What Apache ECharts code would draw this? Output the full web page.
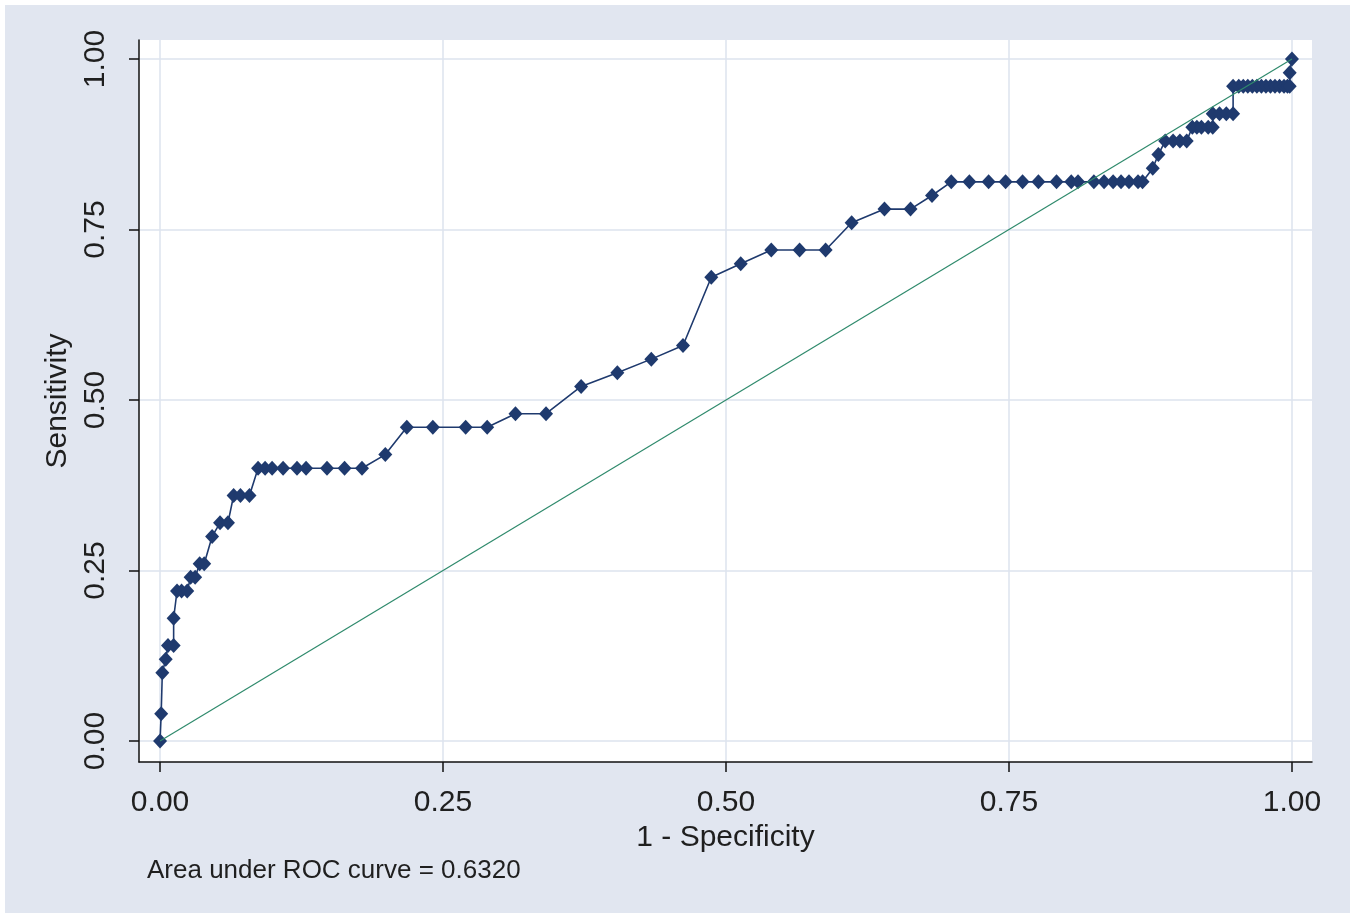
<!DOCTYPE html>
<html>
<head>
<meta charset="utf-8">
<script src="https://cdn.jsdelivr.net/npm/echarts@6/dist/echarts.min.js"></script>
<style>
  html, body { margin: 0; padding: 0; background: #ffffff; }
  #chart { position: absolute; left: 5px; top: 5px; width: 1345px; height: 908px; }
</style>
</head>
<body>
<div id="chart"></div>
<script>
// ROC curve: false positive rate (1 - specificity) vs. true positive rate (sensitivity)
const fpr = [
  0, 0.001, 0.002, 0.005, 0.007, 0.012, 0.012, 0.015, 0.019, 0.024,
  0.027, 0.031, 0.035, 0.039, 0.046, 0.053, 0.060, 0.065, 0.071, 0.079,
  0.0866, 0.0928, 0.099, 0.1087, 0.121, 0.129, 0.1475, 0.163, 0.1784,
  0.199, 0.218, 0.241, 0.270, 0.289, 0.314, 0.341,
  0.372, 0.404, 0.434, 0.462, 0.487, 0.513,
  0.540, 0.565, 0.588, 0.611, 0.640, 0.663, 0.682,
  0.699, 0.715, 0.732, 0.747, 0.762, 0.776, 0.792, 0.805, 0.811, 0.825,
  0.834, 0.842, 0.849, 0.856, 0.864, 0.868,
  0.877, 0.882, 0.888, 0.895, 0.901, 0.907,
  0.912, 0.916, 0.920, 0.926, 0.930,
  0.930, 0.936, 0.942, 0.948,
  0.948, 0.953, 0.957, 0.961, 0.965, 0.969, 0.973, 0.977, 0.981, 0.985, 0.989, 0.993, 0.996, 0.998,
  0.998, 1.000
];
const tpr = [
  0, 0.04, 0.10, 0.12, 0.14, 0.14, 0.18, 0.22, 0.22, 0.22,
  0.24, 0.24, 0.26, 0.26, 0.30, 0.32, 0.32, 0.36, 0.36, 0.36,
  0.40, 0.40, 0.40, 0.40, 0.40, 0.40, 0.40, 0.40, 0.40,
  0.42, 0.46, 0.46, 0.46, 0.46, 0.48, 0.48,
  0.52, 0.54, 0.56, 0.58, 0.68, 0.70,
  0.72, 0.72, 0.72, 0.76, 0.78, 0.78, 0.80,
  0.82, 0.82, 0.82, 0.82, 0.82, 0.82, 0.82, 0.82, 0.82, 0.82,
  0.82, 0.82, 0.82, 0.82, 0.82, 0.82,
  0.84, 0.86, 0.88, 0.88, 0.88, 0.88,
  0.90, 0.90, 0.90, 0.90, 0.90,
  0.92, 0.92, 0.92, 0.92,
  0.96, 0.96, 0.96, 0.96, 0.96, 0.96, 0.96, 0.96, 0.96, 0.96, 0.96, 0.96, 0.96, 0.96,
  0.98, 1.00
];
const refX = [0, 1];
const refY = [0, 1];
const tickValues = [0, 0.25, 0.5, 0.75, 1];
const tickLabels = ['0.00', '0.25', '0.50', '0.75', '1.00'];
const xTitle = '1 - Specificity';
const yTitle = 'Sensitivity';
const aucNote = 'Area under ROC curve = 0.6320';

const rocPoints = fpr.map((x, i) => [x, tpr[i]]);
const refPoints = refX.map((x, i) => [x, refY[i]]);
const fmt = v => tickLabels[tickValues.indexOf(+v.toFixed(2))] ?? '';

const fontFamily = '"Liberation Sans", Arial, sans-serif';
const textColor = '#1f1f1f';
const gridColor = '#dde3ee';

const chart = echarts.init(document.getElementById('chart'));
chart.setOption({
  backgroundColor: '#e1e6f0',
  animation: false,
  title: {
    text: aucNote,
    left: 137,
    top: 848,
    textStyle: { fontFamily, fontSize: 26, fontWeight: 'normal', color: textColor }
  },
  grid: {
    left: 134, top: 35, right: 38, bottom: 151,
    show: true, backgroundColor: '#ffffff', borderWidth: 0
  },
  xAxis: {
    type: 'value',
    min: -0.0186, max: 1.0177,
    name: xTitle,
    nameLocation: 'middle',
    nameGap: 50,
    nameTextStyle: { fontFamily, fontSize: 30, color: textColor },
    axisLine: { show: true, onZero: false, lineStyle: { color: '#111', width: 1.5 } },
    axisTick: { show: true, length: 10, customValues: tickValues, lineStyle: { color: '#111', width: 1.5 } },
    axisLabel: { customValues: tickValues, formatter: fmt, margin: 26, fontFamily, fontSize: 30, color: textColor },
    splitLine: { show: true, lineStyle: { color: gridColor, width: 1.5 } }
  },
  yAxis: {
    type: 'value',
    min: -0.0308, max: 1.028,
    name: yTitle,
    nameLocation: 'middle',
    nameGap: 62,
    nameRotate: 90,
    nameTextStyle: { fontFamily, fontSize: 30, color: textColor },
    axisLine: { show: true, onZero: false, lineStyle: { color: '#111', width: 1.5 } },
    axisTick: { show: true, length: 10, customValues: tickValues, lineStyle: { color: '#111', width: 1.5 } },
    axisLabel: { customValues: tickValues, formatter: fmt, rotate: 90, margin: 28, fontFamily, fontSize: 30, color: textColor },
    splitLine: { show: true, lineStyle: { color: gridColor, width: 1.5 } }
  },
  series: [
    {
      name: 'ROC',
      type: 'line',
      data: rocPoints,
      symbol: 'diamond',
      symbolSize: [14, 15],
      showAllSymbol: true,
      lineStyle: { color: '#1f3a6e', width: 1.6 },
      itemStyle: { color: '#1f3a6e' },
      z: 2
    },
    {
      name: 'Reference',
      type: 'line',
      data: refPoints,
      symbol: 'none',
      lineStyle: { color: '#2f8a6c', width: 1.2 },
      z: 3
    }
  ]
});
</script>
</body>
</html>
